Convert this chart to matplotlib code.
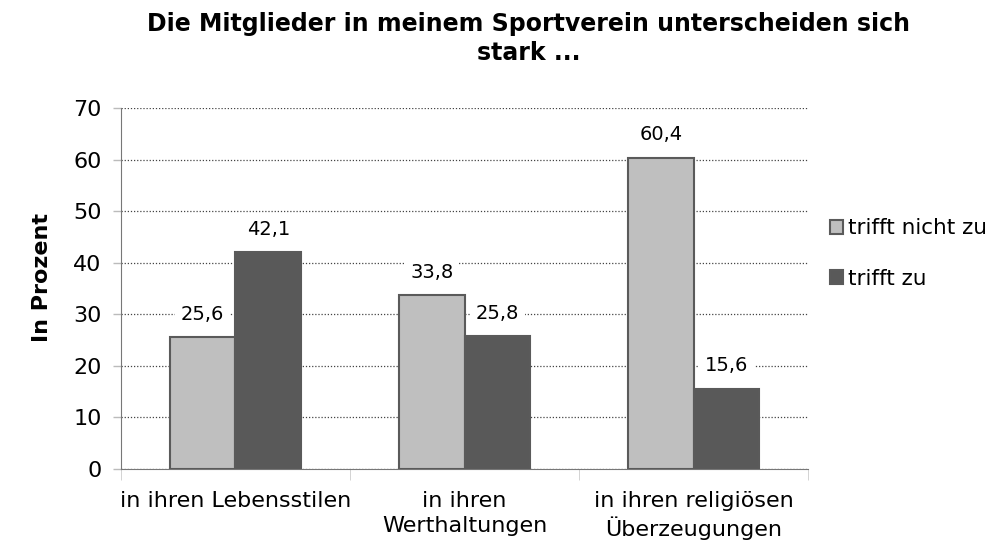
import numpy as np
import matplotlib
matplotlib.use("Agg")
import matplotlib.pyplot as plt

categories = ["in ihren Lebensstilen", "in ihren\nWerthaltungen", "in ihren religiösen\nÜberzeugungen"]
series_names = ["trifft nicht zu", "trifft zu"]
nicht_zu = [25.6, 33.8, 60.4]
zu = [42.1, 25.8, 15.6]
colors = ["#bfbfbf", "#595959"]

plt.rcParams['font.family'] = ['DejaVu Sans']

fig = plt.figure(figsize=(9.9, 5.42), dpi=100)
ax = fig.add_axes([0.1222, 0.1347, 0.694, 0.666])

x = np.arange(len(categories))
w = 0.286
for i, (vals, col, name) in enumerate(zip([nicht_zu, zu], colors, series_names)):
    pos = x + (i - 0.5) * w
    ax.bar(pos, vals, w, color=col, edgecolor="#5a5a5a", linewidth=1.5,
           label=name, zorder=3)
    for px, v in zip(pos, vals):
        ax.text(px, v + 4.4, f"{v:.1f}".replace(".", ","), ha="center", va="center",
                fontsize=14, zorder=4,
                bbox=dict(facecolor="white", edgecolor="none", pad=4))

ax.set_xlim(-0.5, 2.5)
ax.set_ylim(0, 70)
ax.set_yticks(range(0, 71, 10))
ax.tick_params(axis="y", labelsize=16, color="#bbbbbb", length=6, width=1, pad=8)
ax.set_xticks(x)
ax.set_xticklabels(categories, fontsize=16, linespacing=1.27)
ax.tick_params(axis="x", length=0, pad=16)
ax.set_xticks([-0.5, 0.5, 1.5, 2.5], minor=True)
ax.tick_params(axis="x", which="minor", length=8, color="#cccccc")

ax.grid(axis="y", linestyle=(0, (1, 1.5)), color="#444444", linewidth=0.9, zorder=0)
for s in ["top", "right"]:
    ax.spines[s].set_visible(False)
ax.spines["left"].set_color("#777777")
ax.spines["bottom"].set_color("#777777")

fig.text(42 / 990, 1 - 278 / 542, "In Prozent", rotation=90, ha="center", va="center",
         fontsize=16, fontweight="bold")

fig.text(0.534, 0.978, "Die Mitglieder in meinem Sportverein unterscheiden sich\nstark ...",
         ha="center", va="top", fontsize=17, fontweight="bold", linespacing=1.25)

ax.legend(loc="center left", bbox_to_anchor=(1.010, 0.597), frameon=False,
          fontsize=15.5, handlelength=0.6, handleheight=0.6, handletextpad=0.23,
          labelspacing=1.4, borderaxespad=0.3)

fig.savefig("out.png", dpi=100)
